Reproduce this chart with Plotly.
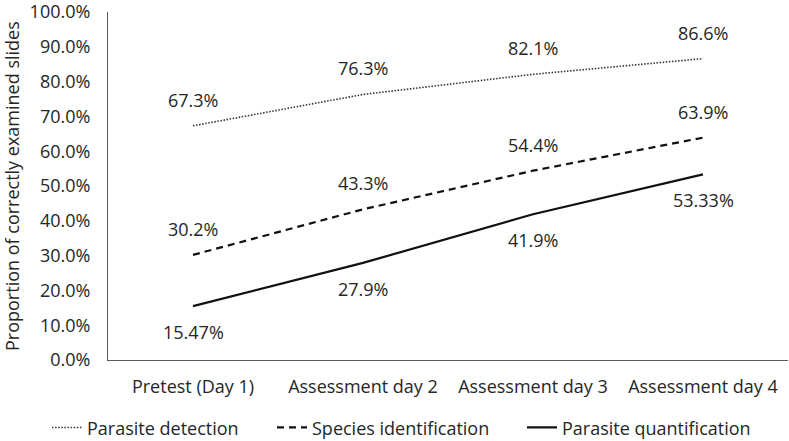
import plotly.graph_objects as go

categories = ["Pretest (Day 1)", "Assessment day 2", "Assessment day 3", "Assessment day 4"]
detection = [67.3, 76.3, 82.1, 86.6]
species = [30.2, 43.3, 54.4, 63.9]
quantification = [15.47, 27.9, 41.9, 53.33]
y_ticks = [0, 10, 20, 30, 40, 50, 60, 70, 80, 90, 100]
y_title = "Proportion of correctly examined slides"

FONT = "Open Sans"
TXT = "#262626"

W, H = 789, 441
L, R, T, B = 108, 1, 12, 81

series = [
    ("Parasite detection", detection, dict(color="#333333", width=1.6, dash="1.5px,1.6px"), 26, "legend", 47),
    ("Species identification", species, dict(color="#111111", width=2.2, dash="7px,5px"), 26, "legend2", 272),
    ("Parasite quantification", quantification, dict(color="#111111", width=2.2), -26, "legend3", 522),
]

fig = go.Figure()
annotations = []
legends = {}
for name, vals, line, shift, lg, lx in series:
    fig.add_trace(go.Scatter(x=categories, y=vals, mode="lines", name=name,
                             line=line, hoverinfo="skip", legend=lg))
    legends[lg] = dict(orientation="h", xref="container", yref="container",
                       x=lx / W, xanchor="left", y=0.03, yanchor="middle",
                       font=dict(family=FONT, size=18, color=TXT),
                       bgcolor="rgba(0,0,0,0)", itemwidth=30)
    for c, v in zip(categories, vals):
        annotations.append(dict(x=c, y=v, xref="x", yref="y", text=f"{v:g}%",
                                showarrow=False, yshift=shift,
                                font=dict(family=FONT, size=18, color=TXT)))

# y-axis title as rotated text
annotations.append(dict(x=(12 - L) / (W - L - R), y=0.5, xref="paper", yref="paper",
                        text=y_title, textangle=-90, showarrow=False,
                        xanchor="center", yanchor="middle",
                        font=dict(family=FONT, size=18, color=TXT)))

fig.update_layout(
    width=W, height=H,
    margin=dict(l=L, r=R, t=T, b=B, autoexpand=False),
    paper_bgcolor="white", plot_bgcolor="white",
    font=dict(family=FONT, size=18, color=TXT),
    annotations=annotations,
    showlegend=True,
    xaxis=dict(type="category", range=[-0.5, 3.5], showgrid=False, zeroline=False,
               showline=True, linecolor="#595959", linewidth=1,
               ticks="", ticklabelstandoff=10, ticklabeloverflow="allow",
               automargin=False,
               tickfont=dict(family=FONT, size=18, color=TXT)),
    yaxis=dict(range=[0, 100], tickvals=y_ticks, ticktext=[f"{t:.1f}%" for t in y_ticks],
               showgrid=False, zeroline=False,
               showline=True, linecolor="#595959", linewidth=1,
               ticks="", ticklabelstandoff=13, ticklabeloverflow="allow",
               tickfont=dict(family=FONT, size=18, color=TXT),
               automargin=False),
    **legends,
)

fig.write_html("out.html", config={"displayModeBar": False},
               post_script="document.body.style.margin='0';")
